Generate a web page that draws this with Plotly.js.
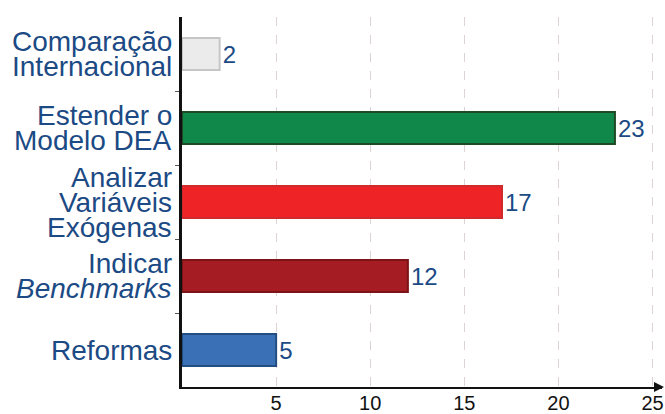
<!DOCTYPE html>
<html>
<head>
<meta charset="utf-8">
<script src="https://cdn.plot.ly/plotly-3.0.1.min.js"></script>
<style>html,body{margin:0;padding:0;background:#fff}#chart{width:665px;height:414px}</style>
</head>
<body>
<div id="chart"></div>
<script>
const categories = ["Comparação<br>Internacional", "Estender o<br>Modelo DEA", "Analizar<br>Variáveis<br>Exógenas", "Indicar<br><i>Benchmarks</i>", "Reformas"];
const values = [2, 23, 17, 12, 5];
const fillColors = ["#ebebeb", "#10884a", "#ee2326", "#a51d23", "#3a70b6"];
const edgeColors = ["#c6c6c6", "#1f4a26", "#cf2a2e", "#7c1317", "#224e82"];
const xTicks = [5, 10, 15, 20, 25];

const labelColor = "#1b4a84";
const font = "Arial, 'Liberation Sans', sans-serif";

const trace = {
  type: "bar",
  orientation: "h",
  y: categories.map((c, i) => i),
  x: values,
  width: 0.43,
  marker: { color: fillColors, line: { color: edgeColors, width: 2 } },
  text: values.map(String),
  textposition: "outside",
  cliponaxis: false,
  textfont: { family: font, size: 24, color: labelColor },
  hoverinfo: "skip"
};

const annotations = [];
const lineGap = 25;
categories.forEach((c, i) => {
  const lines = c.split("<br>");
  const n = lines.length;
  lines.forEach((ln, j) => {
    annotations.push({
      xref: "paper", yref: "y", x: 0, y: i,
      xanchor: "right", yanchor: "middle",
      xshift: -8, yshift: ((n - 1) / 2 - j) * lineGap,
      text: ln, showarrow: false,
      font: { family: font, size: 28, color: labelColor }
    });
  });
});
annotations.push({
  xref: "paper", yref: "paper", x: 1.012, y: 0, ax: -12, ay: 0,
  axref: "pixel", ayref: "pixel",
  text: "", showarrow: true, arrowhead: 2, arrowsize: 1, arrowwidth: 2, arrowcolor: "#111"
});

const layout = {
  width: 665, height: 414,
  margin: { l: 182, r: 3, t: 17, b: 27, pad: 0 },
  paper_bgcolor: "#fff", plot_bgcolor: "#fff",
  showlegend: false,
  xaxis: {
    range: [0, 25.5], tickvals: xTicks, ticktext: xTicks.map(String),
    showgrid: true, gridcolor: "#ddd3d3", griddash: "dash", gridwidth: 1,
    zeroline: false, showline: true, linecolor: "#111", linewidth: 2,
    ticks: "", ticklabelstandoff: -3,
    tickfont: { family: font, size: 20, color: "#111" },
    fixedrange: true
  },
  yaxis: {
    type: "linear", range: [4.5, -0.5], showticklabels: false,
    tickvals: [0.5, 1.5, 2.5, 3.5], ticks: "outside", ticklen: 4, tickcolor: "#555",
    showgrid: false, zeroline: false, showline: true, linecolor: "#111", linewidth: 3,
    fixedrange: true
  },
  annotations: annotations
};

Plotly.newPlot("chart", [trace], layout, { staticPlot: true });
</script>
</body>
</html>
